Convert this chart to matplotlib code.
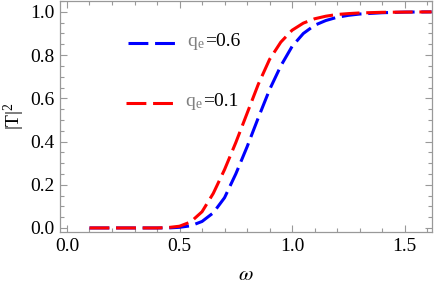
import matplotlib
matplotlib.use("Agg")
import matplotlib.pyplot as plt
from matplotlib.ticker import MultipleLocator
from matplotlib.offsetbox import TextArea, HPacker, AnnotationBbox

plt.rcParams['font.family'] = ['Liberation Serif', 'DejaVu Serif']
plt.rcParams['mathtext.fontset'] = 'stix'

# values
omega = [0.1, 0.2, 0.3, 0.4, 0.45, 0.5, 0.55, 0.6, 0.65, 0.7, 0.75, 0.8, 0.85,
         0.9, 0.95, 1.0, 1.05, 1.1, 1.15, 1.2, 1.25, 1.3, 1.4, 1.5, 1.62]
T2_q06 = [0.0, 0.0, 0.0, 0.0, 0.0, 0.003, 0.01, 0.03, 0.07, 0.14, 0.25, 0.375, 0.51,
          0.64, 0.75, 0.84, 0.9, 0.938, 0.96, 0.975, 0.984, 0.99, 0.996, 0.999, 1.0]
T2_q01 = [0.0, 0.0, 0.0, 0.0, 0.002, 0.008, 0.028, 0.075, 0.16, 0.27, 0.395, 0.53, 0.665,
          0.78, 0.86, 0.915, 0.948, 0.968, 0.98, 0.988, 0.992, 0.995, 0.998, 0.999, 1.0]
labels = ['0.6', '0.1']
colors = ['#0000ff', '#ff0000']

fig = plt.figure(figsize=(4.36, 2.86), dpi=100)
ax = fig.add_axes([0.1376, 0.189, 0.8534, 0.808])

for y, c in zip([T2_q06, T2_q01], colors):
    ax.plot(omega, y, color=c, lw=2.2, dashes=[6.5, 2.2])

ax.set_xlim(-0.031, 1.622)
ax.set_ylim(-0.0185, 1.051)
ax.xaxis.set_major_locator(MultipleLocator(0.5))
ax.xaxis.set_minor_locator(MultipleLocator(0.1))
ax.yaxis.set_major_locator(MultipleLocator(0.2))
ax.yaxis.set_minor_locator(MultipleLocator(0.05))
ax.xaxis.set_major_formatter(lambda v, p: '%.1f' % v)
ax.yaxis.set_major_formatter(lambda v, p: '%.1f' % v)

fc = '#999999'
for s in ax.spines.values():
    s.set_color(fc)
    s.set_linewidth(0.9)
ax.tick_params(which='both', direction='in', top=True, right=True, color=fc,
               labelsize=14, labelcolor='black', width=0.8)
ax.tick_params(which='major', length=5, pad=4)
ax.tick_params(which='minor', length=3)

ax.set_xlabel(r'$\omega$', fontsize=15, labelpad=8)
ax.set_ylabel(r'$\mathregular{|T|^2}$', fontsize=14, labelpad=2)

# legend drawn by hand, Mathematica style
leg_pos = [(0.183, 0.315, 0.818, 0.342), (0.177, 0.306, 0.558, 0.336)]
for (x0, x1, yy, xt), c, lab in zip(leg_pos, colors, labels):
    ax.plot([x0, x1], [yy, yy], transform=ax.transAxes, color=c, lw=2.2,
            dashes=[6.5, 2.2], clip_on=False)
    box = HPacker(children=[
        TextArea(r'q$_\mathregular{e}$', textprops=dict(color='#808080', fontsize=14)),
        TextArea('=' + lab, textprops=dict(color='black', fontsize=14))],
        sep=0, pad=0, align='baseline')
    ab = AnnotationBbox(box, (xt, yy), xycoords='axes fraction',
                        box_alignment=(0, 0.5), frameon=False, pad=0)
    ax.add_artist(ab)

fig.savefig('out.png', dpi=100)
